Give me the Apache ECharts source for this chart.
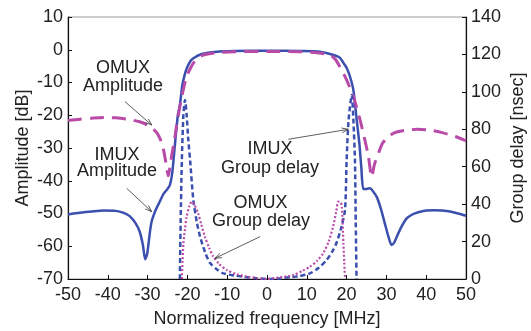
<!DOCTYPE html>
<html>
<head>
<meta charset="utf-8">
<script src="https://cdn.jsdelivr.net/npm/echarts@6/dist/echarts.min.js"></script>
<style>
  html, body { margin: 0; padding: 0; background: #fff; }
  #chart { width: 531px; height: 331px; }
</style>
</head>
<body>
<div id="chart"></div>
<script>
// x axis [MHz], left axis [dB], right axis [nsec]
const xTicks = [-50, -40, -30, -20, -10, 0, 10, 20, 30, 40, 50];
const ampTicks = [-70, -60, -50, -40, -30, -20, -10, 0, 10];
const delayTicks = [0, 20, 40, 60, 80, 100, 120, 140];

// IMUX amplitude [x, dB]
const imuxAmp = [
  [-50, -50.3], [-47, -49.8], [-44, -49.4], [-41, -49.1], [-38, -49.2], [-36, -49.8],
  [-34.5, -50.8], [-33, -53], [-32, -55.5], [-31.2, -59.5], [-30.6, -64], [-30.1, -62.3],
  [-29.5, -56.5], [-29, -52.5], [-28, -49], [-27, -46.5], [-26, -44], [-25, -42.5],
  [-24.4, -41.3], [-23.8, -37.5], [-23.1, -28.5], [-22.4, -20], [-21.9, -17], [-21.3, -11],
  [-20.8, -8.2], [-20.2, -5.8], [-19.3, -3.6], [-18.5, -2.6], [-16.4, -1.3], [-12.6, -0.6],
  [-8, -0.4], [0, -0.3], [8, -0.4], [13.3, -0.6], [16.7, -1.6], [18.3, -2.4],
  [19.2, -4], [20, -5.5], [20.9, -8.4], [21.7, -12.3], [22.5, -21], [23.2, -28.5],
  [23.7, -36], [24.2, -42.5], [25, -42.5], [25.9, -42.3], [26.8, -43.5], [27.6, -45],
  [28.6, -48.5], [29.6, -53], [30.5, -57], [31.3, -59.6], [32, -58.8], [32.6, -57.1],
  [33.8, -54], [35.1, -51.5], [36.5, -50.3], [38, -49.6], [40, -49.1], [42, -49],
  [44, -49.1], [46, -49.4], [48, -50], [50, -50.7]
];

// OMUX amplitude [x, dB]
const omuxAmp = [
  [-50, -21.6], [-47, -21.2], [-44, -20.9], [-41, -20.7], [-38, -20.8], [-35, -21.2],
  [-32, -22], [-30, -23], [-28.5, -24.3], [-27.5, -25.7], [-26.5, -28.2], [-26, -30.5],
  [-25.4, -34.5], [-24.8, -38.5], [-24.4, -36], [-23.9, -32], [-23.3, -28], [-22.7, -23],
  [-21.9, -17.4], [-21, -12], [-20.2, -8.2], [-19.3, -5.8], [-18.5, -4.1], [-17.3, -2.6],
  [-16, -1.6], [-12.6, -0.9], [-8, -0.6], [0, -0.5], [8, -0.6], [12.6, -0.9],
  [15.8, -1.6], [17.2, -3], [18.3, -5.2], [19.2, -7.2], [20, -9.2], [21.7, -14.3],
  [23.4, -21.5], [24.6, -27.6], [25.5, -32.7], [26.3, -38.8], [27, -35], [28, -31.6],
  [29, -28.6], [30.5, -26.5], [32, -25.4], [33.4, -24.9], [35.5, -24.5], [37.6, -24.3],
  [40, -24.4], [41.8, -24.7], [44, -25.3], [46, -26], [48, -26.8], [50, -27.8]
];

// IMUX group delay [x, nsec]
const imuxDelay = [
  [-21.9, 0], [-21.7, 30], [-21.4, 63], [-21.0, 88], [-20.6, 95.7], [-20.2, 88],
  [-19.8, 75], [-19.3, 63], [-18.5, 42], [-17.6, 30], [-16.8, 22.5], [-15.5, 14],
  [-14.3, 8.5], [-12.5, 5], [-11, 3], [-8, 1.8], [-6, 1.2], [-3, 0.5], [0, 0],
  [3, 0.3], [6, 1], [8, 1.5], [10.8, 3], [13, 6], [15, 10.2], [16.5, 15],
  [17.5, 19.5], [18.6, 27], [19.6, 37], [20.0, 63], [20.5, 85], [21.3, 98.3],
  [21.7, 85], [22.1, 63], [22.3, 30], [22.5, 0]
];

// OMUX group delay [x, nsec]
const omuxDelay = [
  [-21.4, 0], [-21.2, 10], [-21.0, 19], [-20.6, 27], [-20.2, 33], [-19.5, 39],
  [-18.9, 41.3], [-18.2, 39.5], [-17.3, 35], [-16.5, 29], [-15.6, 22.6], [-14.5, 16.5],
  [-13.5, 12], [-12, 8], [-10.1, 4.8], [-7.5, 2.5], [-5, 1.2], [-2.5, 0.4], [0, 0],
  [3, 0.8], [6.6, 2.1], [9, 4.5], [10.8, 6.6], [12.5, 9.5], [14.1, 13.7], [15.5, 20],
  [16.6, 28], [17.4, 36], [17.9, 41.3], [18.5, 41], [18.8, 38.6], [19.0, 30],
  [19.2, 19], [19.4, 9], [19.6, 0]
];

const BLUE = '#3a4fae';
const MAGENTA = '#b84aa8';
const FONT = 'Liberation Sans, Arial, sans-serif';

// thin arrow with open head, pixel coords
function arrow(x1, y1, x2, y2) {
  const a = Math.atan2(y2 - y1, x2 - x1);
  const L = 7, w = 0.35;
  const p1 = [x2 - L * Math.cos(a - w), y2 - L * Math.sin(a - w)];
  const p2 = [x2 - L * Math.cos(a + w), y2 - L * Math.sin(a + w)];
  const st = { stroke: '#333', lineWidth: 0.8, fill: null };
  return [
    { type: 'line', shape: { x1, y1, x2, y2 }, style: st, z: 100 },
    { type: 'polyline', shape: { points: [p1, [x2, y2], p2] }, style: st, z: 100 }
  ];
}

function label(text, x, y) {
  return {
    type: 'text', x, y, z: 100,
    style: { text, fontSize: 18, fontFamily: FONT, fill: '#222', align: 'center', verticalAlign: 'middle' }
  };
}

const chart = echarts.init(document.getElementById('chart'));

const axisText = { fontSize: 18, fontFamily: FONT, color: '#222' };

chart.setOption({
  animation: false,
  grid: {
    left: 68, right: 65, top: 17, bottom: 52,
    outerBoundsMode: 'none',
    show: true, borderColor: '#999', borderWidth: 1
  },
  xAxis: {
    type: 'value', min: -50, max: 50, interval: 10,
    name: 'Normalized frequency [MHz]', nameLocation: 'middle', nameGap: 31,
    nameTextStyle: axisText,
    axisLine: { onZero: false, lineStyle: { color: '#111', width: 1.2 } },
    axisTick: { inside: true, length: 4, lineStyle: { color: '#111' } },
    axisLabel: Object.assign({ margin: 7, customValues: xTicks }, axisText),
    splitLine: { show: false }
  },
  yAxis: [
    {
      type: 'value', min: -70, max: 10, interval: 10, position: 'left',
      name: 'Amplitude [dB]', nameLocation: 'middle', nameGap: 36, nameRotate: 90,
      nameMoveOverlap: false,
      nameTextStyle: axisText,
      axisLine: { show: true, onZero: false, lineStyle: { color: '#111', width: 1.2 } },
      axisTick: { show: true, inside: true, length: 4, lineStyle: { color: '#111' } },
      axisLabel: Object.assign({ margin: 5, customValues: ampTicks }, axisText),
      splitLine: { show: false }
    },
    {
      type: 'value', min: 0, max: 140, interval: 20, position: 'right',
      name: 'Group delay [nsec]', nameLocation: 'middle', nameGap: 43, nameRotate: 90,
      nameMoveOverlap: false,
      nameTextStyle: axisText,
      axisLine: { show: true, onZero: false, lineStyle: { color: '#111', width: 1.2 } },
      axisTick: { show: true, inside: true, length: 4, lineStyle: { color: '#111' } },
      axisLabel: Object.assign({ margin: 5, customValues: delayTicks }, axisText),
      splitLine: { show: false }
    }
  ],
  series: [
    {
      name: 'IMUX Amplitude', type: 'line', yAxisIndex: 0, data: imuxAmp,
      showSymbol: false, smooth: 0.25,
      lineStyle: { color: BLUE, width: 2.5 }
    },
    {
      name: 'OMUX Amplitude', type: 'line', yAxisIndex: 0, data: omuxAmp,
      showSymbol: false, smooth: 0.25,
      lineStyle: { color: MAGENTA, width: 3, type: [14, 8] }
    },
    {
      name: 'IMUX Group delay', type: 'line', yAxisIndex: 1, data: imuxDelay,
      showSymbol: false, smooth: 0.25,
      lineStyle: { color: BLUE, width: 2.5, type: [5, 3] }
    },
    {
      name: 'OMUX Group delay', type: 'line', yAxisIndex: 1, data: omuxDelay,
      showSymbol: false, smooth: 0.25,
      lineStyle: { color: MAGENTA, width: 2.2, type: [2, 2] }
    }
  ],
  graphic: [
    label('OMUX', 123, 68), label('Amplitude', 123, 86.5),
    label('IMUX', 117, 155.5), label('Amplitude', 117, 171.5),
    label('IMUX', 270, 149.5), label('Group delay', 270, 168.5),
    label('OMUX', 260.5, 203.5), label('Group delay', 261, 221.5),
    ...arrow(125, 101.7, 151.7, 125),
    ...arrow(126.7, 188.3, 151.7, 211.7),
    ...arrow(288.3, 139.3, 348.3, 129.3),
    ...arrow(260, 236.7, 215, 258.3)
  ]
});
</script>
</body>
</html>
